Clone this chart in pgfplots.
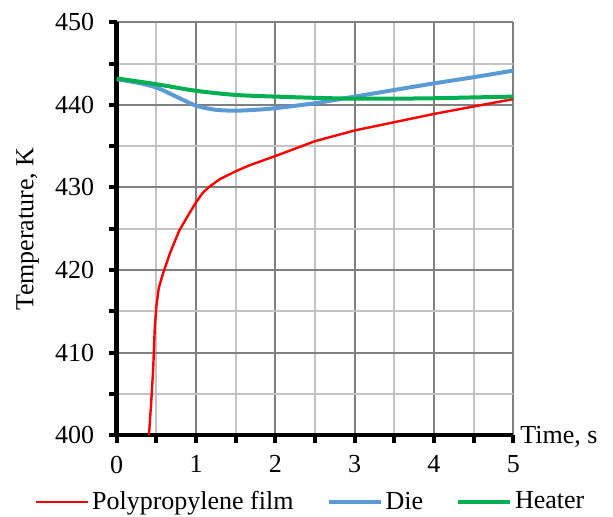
\documentclass[border=0pt]{standalone}
\usepackage{fontspec}
\setmainfont{Liberation Serif}
\usepackage{pgfplots}
\pgfplotsset{compat=1.18}
\definecolor{ppred}{RGB}{255,0,0}
\definecolor{dieblue}{RGB}{91,155,213}
\definecolor{heatgreen}{RGB}{0,176,80}
\definecolor{gridmaj}{RGB}{128,128,128}
\definecolor{gridmin}{RGB}{195,195,195}

\begin{document}
\begin{tikzpicture}[font=\fontsize{13}{15.6}\selectfont]
\begin{axis}[
  scale only axis,
  width=198.3pt,
  height=206.4pt,
  xmin=0, xmax=5,
  ymin=400, ymax=450,
  xtick={0,1,2,3,4,5},
  minor xtick={0.5,1.5,2.5,3.5,4.5},
  ytick={400,410,420,430,440,450},
  minor ytick={405,415,425,435,445},
  axis lines=left,
  axis line style={-, line width=2.4pt, black},
  grid=both,
  major grid style={gridmaj, line width=1pt},
  minor grid style={gridmin, line width=1pt},
  tick align=outside,
  major tick length=3.8pt,
  minor tick length=3.8pt,
  every tick/.style={black, line width=2pt},
  minor tick style={black, line width=2pt},
  /pgf/number format/assume math mode=true,
  xticklabel style={yshift=-3pt},
  yticklabel style={xshift=-4pt},
  xlabel={Time, s},
  every axis x label/.style={at={(rel axis cs:1,0)}, anchor=base west, yshift=-4pt},
  ylabel={Temperature, K},
  every axis y label/.style={at={(rel axis cs:-0.2244,0.5)}, rotate=90, anchor=center},
  legend columns=3,
  legend style={draw=none, fill=none, at={(rel axis cs:0.49,-0.162)}, anchor=center,
    /tikz/every even column/.append style={column sep=15pt},
    nodes={inner sep=1.5pt}},
  legend cell align=left,
  legend image code/.code={\draw[#1] (0pt,0pt) -- (26pt,0pt);},
  clip=true,
]
\addplot[ppred, line width=1.2pt] coordinates {
  (0.407,400) (0.437,404.3) (0.46,408) (0.48,413) (0.5,415.6) (0.53,417.8)
  (0.585,419.6) (0.67,422) (0.79,424.8) (0.9,426.6) (1.0,428.2) (1.09,429.4)
  (1.17,430.1) (1.3,431.0) (1.51,432.0) (1.68,432.7) (2.0,433.8) (2.5,435.6)
  (3.0,436.9) (3.5,437.9) (4.0,438.9) (4.5,439.8) (5.0,440.7)
};
\addlegendentry{Polypropylene film}
\addplot[dieblue, line width=2pt, smooth] coordinates {
  (0,443.1) (0.25,442.7) (0.5,442.1) (0.75,441.0) (1.0,439.9) (1.25,439.4)
  (1.5,439.3) (1.75,439.4) (2.0,439.6) (2.5,440.2) (3.0,441.0) (3.5,441.8)
  (4.0,442.6) (4.5,443.35) (5.0,444.15)
};
\addlegendentry{Die}
\addplot[heatgreen, line width=2pt, smooth] coordinates {
  (0,443.2) (0.5,442.5) (1.0,441.7) (1.5,441.2) (2.0,441.0) (2.5,440.85)
  (3.0,440.75) (3.5,440.75) (4.0,440.8) (4.5,440.9) (5.0,441.0)
};
\addlegendentry{Heater}
\coordinate (bl) at (rel axis cs:0,0);
\coordinate (tr) at (rel axis cs:1,1);
\end{axis}
\pgfresetboundingbox
\path ([shift={(-58.35pt,-40.5pt)}]bl) rectangle ([shift={(49.85pt,11.15pt)}]tr);
\end{tikzpicture}
\end{document}
